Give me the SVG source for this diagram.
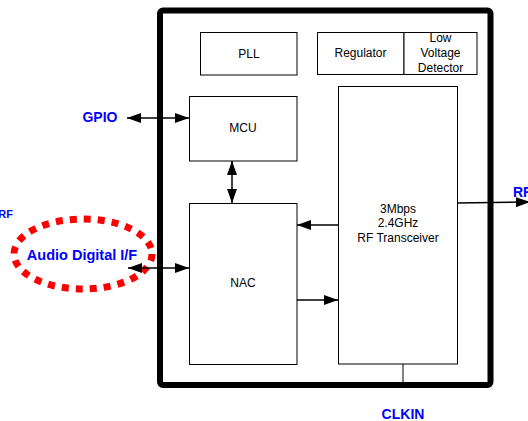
<svg xmlns="http://www.w3.org/2000/svg" width="528" height="421" viewBox="0 0 528 421">
<defs>
<style>
.box{fill:#fff;stroke:#000;stroke-width:1}
.lbl{font-family:"Liberation Sans",Arial,sans-serif;font-size:12px;fill:#000;text-anchor:middle}
.ext{font-family:"Liberation Sans",Arial,sans-serif;font-size:14px;font-weight:bold;fill:#0000ff;text-anchor:middle}
.ln{stroke:#000;stroke-width:1.5;fill:none}
</style>
<marker id="ah" viewBox="0 0 14 10" refX="14" refY="5" markerWidth="14" markerHeight="10" markerUnits="userSpaceOnUse" orient="auto-start-reverse">
<path d="M0,0 L14,5 L0,10 Z" fill="#000"/>
</marker>
</defs>
<rect width="528" height="421" fill="#fff"/>
<g id="chip">
<rect x="160" y="10.5" width="330.5" height="374.5" rx="3" fill="none" stroke="#000" stroke-width="6"/>
</g>
<g id="pll">
<rect class="box" x="200.5" y="32.5" width="96.5" height="42.5"/>
<text class="lbl" x="249" y="58">PLL</text>
</g>
<g id="regulator">
<rect class="box" x="317.5" y="32.5" width="86.5" height="42"/>
<text class="lbl" x="360.5" y="57">Regulator</text>
</g>
<g id="lvd">
<rect class="box" x="404" y="32.5" width="73" height="42"/>
<text class="lbl" x="440.5" y="42">Low</text>
<text class="lbl" x="440.5" y="57">Voltage</text>
<text class="lbl" x="440.5" y="72">Detector</text>
</g>
<g id="mcu">
<rect class="box" x="189.5" y="96.5" width="107.5" height="64.5"/>
<text class="lbl" x="243" y="132">MCU</text>
</g>
<g id="nac">
<rect class="box" x="189.5" y="203.5" width="107.5" height="161"/>
<text class="lbl" x="243" y="287">NAC</text>
</g>
<g id="transceiver">
<rect class="box" x="338.5" y="86.5" width="119" height="277.5"/>
<text class="lbl" x="398" y="213">3Mbps</text>
<text class="lbl" x="398" y="227">2.4GHz</text>
<text class="lbl" x="398" y="242">RF Transceiver</text>
</g>
<g id="gpio"><text class="ext" x="100" y="122">GPIO</text></g>
<g id="audio">
<ellipse cx="83" cy="254" rx="69" ry="35" fill="none" stroke="#ff0000" stroke-width="7" stroke-dasharray="7,7"/>
<text class="ext" x="82" y="260" style="font-size:14.5px">Audio Digital I/F</text>
</g>
<g id="rf-left"><text class="ext" x="13" y="218" style="font-size:11px;text-anchor:end">RF</text></g>
<g id="rf-right"><text class="ext" x="513" y="197" style="text-anchor:start">RF</text></g>
<g id="clkin"><text class="ext" x="403" y="419">CLKIN</text></g>
<g id="connectors">
<line class="ln" x1="127" y1="118" x2="189" y2="118" marker-start="url(#ah)" marker-end="url(#ah)"/>
<line class="ln" x1="232" y1="161" x2="232" y2="203" marker-start="url(#ah)" marker-end="url(#ah)"/>
<line class="ln" x1="128" y1="268" x2="189" y2="268" marker-start="url(#ah)" marker-end="url(#ah)"/>
<line class="ln" x1="338" y1="225" x2="297" y2="225" marker-end="url(#ah)"/>
<line class="ln" x1="297" y1="300" x2="338" y2="300" marker-end="url(#ah)"/>
<line class="ln" x1="457" y1="203" x2="530" y2="202" marker-end="url(#ah)"/>
<line class="ln" style="stroke-width:1" x1="403" y1="364" x2="403" y2="385"/>
</g>
</svg>
